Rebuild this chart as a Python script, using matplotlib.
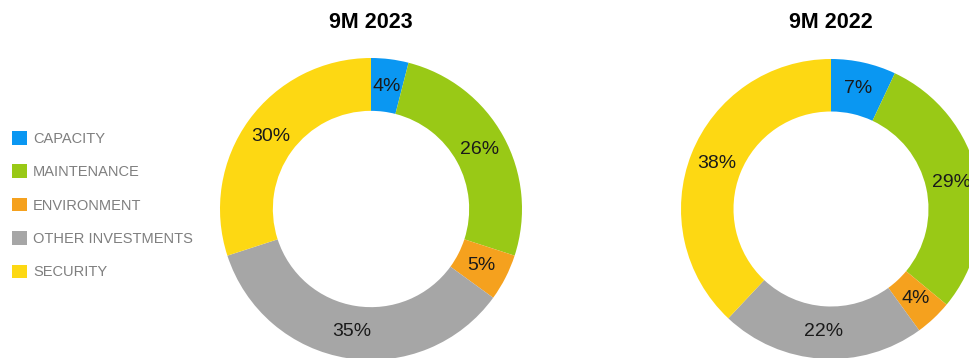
import matplotlib.pyplot as plt
from matplotlib.patches import Patch

W, H = 970, 358

categories = ['CAPACITY', 'MAINTENANCE', 'ENVIRONMENT', 'OTHER INVESTMENTS', 'SECURITY']
colors = ['#0A97F2', '#99C916', '#F5A11E', '#A6A6A6', '#FDD813']
share_2023 = [4, 26, 5, 35, 30]
share_2022 = [7, 29, 4, 22, 38]
titles = ['9M 2023', '9M 2022']

plt.rcParams['font.family'] = ['Liberation Sans', 'DejaVu Sans']

fig = plt.figure(figsize=(W / 100, H / 100), dpi=100)


def donut(cx, cy, r, values, title):
    # axes placed in pixel coordinates so the ring lands where it should
    ax = fig.add_axes([(cx - r) / W, (H - cy - r) / H, 2 * r / W, 2 * r / H])
    wedges, texts, autotexts = ax.pie(
        values, colors=colors, startangle=90, counterclock=False, radius=1,
        autopct=lambda p: f'{p:.0f}%', pctdistance=0.82,
        wedgeprops=dict(width=0.35, linewidth=0),
        textprops=dict(fontsize=14, color='#1A1A1A'))
    ax.set_xlim(-1, 1)
    ax.set_ylim(-1, 1)
    ax.set_axis_off()
    fig.text(cx / W, 1 - 23 / H, title, ha='center', va='center',
             fontsize=15.5, fontweight='bold', color='black')
    return wedges


wedges = donut(371, 209, 151, share_2023, titles[0])
donut(831, 209, 150, share_2022, titles[1])

handles = [Patch(facecolor=c, edgecolor='none') for c in colors]
fig.legend(handles, categories, loc='upper left', bbox_to_anchor=(12 / W, 1 - 131 / H),
           frameon=False, fontsize=10.5, labelcolor='#7F7F7F',
           handlelength=1.05, handleheight=1.05, handletextpad=0.4,
           labelspacing=1.28, borderaxespad=0, borderpad=0)

fig.savefig('out.png', dpi=100, facecolor='white')
